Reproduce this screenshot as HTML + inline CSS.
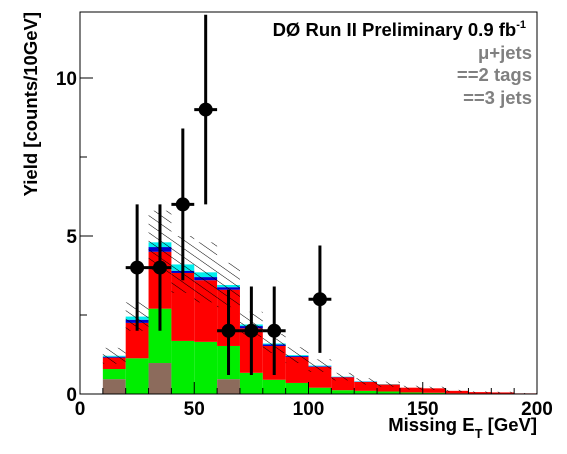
<!DOCTYPE html>
<html><head><meta charset="utf-8"><style>
body{margin:0;background:#fff;}
svg{display:block;font-family:"Liberation Sans",sans-serif;}
</style></head><body>
<svg id="chart" width="567" height="454" viewBox="0 0 567 454" xmlns="http://www.w3.org/2000/svg">
<defs>
<pattern id="hatch" patternUnits="userSpaceOnUse" width="7" height="7" patternTransform="rotate(35)">
<line x1="0" y1="0" x2="7" y2="0" stroke="#000" stroke-width="1"/>
</pattern>
</defs>
<g id="stacks"></g>
<g id="hatches"></g>
<g id="points"></g>
<g id="axes"></g>
<text x="526" y="36" text-anchor="end" font-size="18.5" font-weight="bold" fill="#000">DØ Run II Preliminary 0.9 fb<tspan font-size="11" dy="-8">-1</tspan></text>
<text x="532" y="59" text-anchor="end" font-size="18.5" font-weight="bold" fill="#808080">μ+jets</text>
<text x="532" y="81" text-anchor="end" font-size="18.5" font-weight="bold" fill="#808080">==2 tags</text>
<text x="532" y="104" text-anchor="end" font-size="18.5" font-weight="bold" fill="#808080">==3 jets</text>
<text x="537" y="431" text-anchor="end" font-size="18.5" font-weight="bold">Missing E<tspan font-size="13" dy="7">T</tspan><tspan dy="-7"> [GeV]</tspan></text>
<text transform="translate(37,12) rotate(-90)" x="0" y="0" text-anchor="end" font-size="18.5" font-weight="bold">Yield [counts/10GeV]</text>
</svg>
<script>
const binEdges=[0,10,20,30,40,50,60,70,80,90,100,110,120,130,140,150,160,170,180,190,200];
const brown=[0,0.47,0,0.98,0,0,0.47,0,0,0,0,0,0,0,0,0,0,0,0,0];
const green=[0,0.32,1.13,1.72,1.68,1.65,1.05,0.67,0.45,0.35,0.2,0.12,0.1,0.08,0.05,0.04,0.02,0.01,0.01,0];
const red=[0,0.36,1.12,1.8,2.15,1.95,1.78,1.41,1.07,0.82,0.66,0.41,0.28,0.22,0.15,0.14,0.08,0.05,0.04,0.02];
const blue=[0,0.03,0.1,0.15,0.07,0.1,0.08,0.07,0.05,0.03,0.02,0.01,0.01,0,0,0,0,0,0,0];
const cyan=[0,0.03,0.1,0.15,0.2,0.15,0.07,0.05,0.03,0.03,0.02,0.01,0.01,0.01,0,0,0,0,0,0];
const errBand=[0,0.25,0.45,1.0,0.9,0.95,0.7,0.4,0.3,0.25,0.2,0.12,0.1,0.08,0.06,0.05,0.03,0.02,0.02,0.01];
const dataX=[25,35,45,55,65,75,85,105];
const dataY=[4,4,6,9,2,2,2,3];
const errLo=[2,2,2.4,3,1.4,1.4,1.4,1.7];
const errHi=[2,2,2.4,3,1.3,1.4,1.4,1.7];
const xTicks=[0,50,100,150,200];
const yTicks=[0,5,10];
const NS="http://www.w3.org/2000/svg";
const X0=80,X1=537,Y0=394,YTOP=12;
const xs=v=>X0+(v-0)/200*(X1-X0);
const ys=v=>Y0-v*31.6;
function mk(tag,attrs,parent){const e=document.createElementNS(NS,tag);for(const k in attrs)e.setAttribute(k,attrs[k]);parent.appendChild(e);return e;}
const stacks=document.getElementById('stacks');
const layers=[[brown,'#8c6b5c','brown-bkg'],[green,'#00ee00','green-bkg'],[red,'#ff0000','red-bkg'],[blue,'#0000cc','blue-bkg'],[cyan,'#00eeee','cyan-bkg']];
for(let i=0;i<binEdges.length-1;i++){
  let base=0;
  const xa=xs(binEdges[i]),xb=xs(binEdges[i+1]);
  layers.forEach(([arr,col,nm])=>{
    const v=arr[i];
    if(v>0){
      const r=mk('rect',{x:xa,y:ys(base+v),width:xb-xa,height:ys(base)-ys(base+v),fill:col},stacks);
      
      
    }
    base+=v;
  });
  const e=errBand[i];
  if(e>0){
    const h=mk('rect',{x:xa,y:ys(base+e),width:xb-xa,height:ys(Math.max(base-e,0))-ys(base+e),fill:'url(#hatch)'},document.getElementById('hatches'));
    
    
  }
}
const pts=document.getElementById('points');
dataX.forEach((x,i)=>{
  const y=dataY[i];
  const g=mk('g',{},pts);
  
  
  mk('line',{x1:xs(x),x2:xs(x),y1:Math.max(ys(y+errHi[i]),YTOP),y2:ys(y-errLo[i]),stroke:'#000','stroke-width':3},g);
  mk('line',{x1:xs(x-5),x2:xs(x+5),y1:ys(y),y2:ys(y),stroke:'#000','stroke-width':3},g);
  mk('circle',{cx:xs(x),cy:ys(y),r:7,fill:'#000'},g);
});
const ax=document.getElementById('axes');
mk('rect',{x:X0,y:YTOP,width:X1-X0,height:Y0-YTOP,fill:'none',stroke:'#000','stroke-width':1},ax);
for(let v=0;v<=200;v+=10){const L=(v%50===0)?12:6;mk('line',{x1:xs(v),x2:xs(v),y1:Y0,y2:Y0-L,stroke:'#000'},ax);}
for(let v=0;v<=12;v+=2.5){const L=(v%5===0)?13:7;mk('line',{x1:X0,x2:X0+L,y1:ys(v),y2:ys(v),stroke:'#000'},ax);}
xTicks.forEach(v=>{const t=mk('text',{x:xs(v),y:Y0+21,'text-anchor':'middle','font-size':19,'font-weight':'bold'},ax);t.textContent=v;

});
yTicks.forEach(v=>{const t=mk('text',{x:X0-3,y:ys(v)+7,'text-anchor':'end','font-size':19,'font-weight':'bold'},ax);t.textContent=v;

});
</script>
</body></html>
